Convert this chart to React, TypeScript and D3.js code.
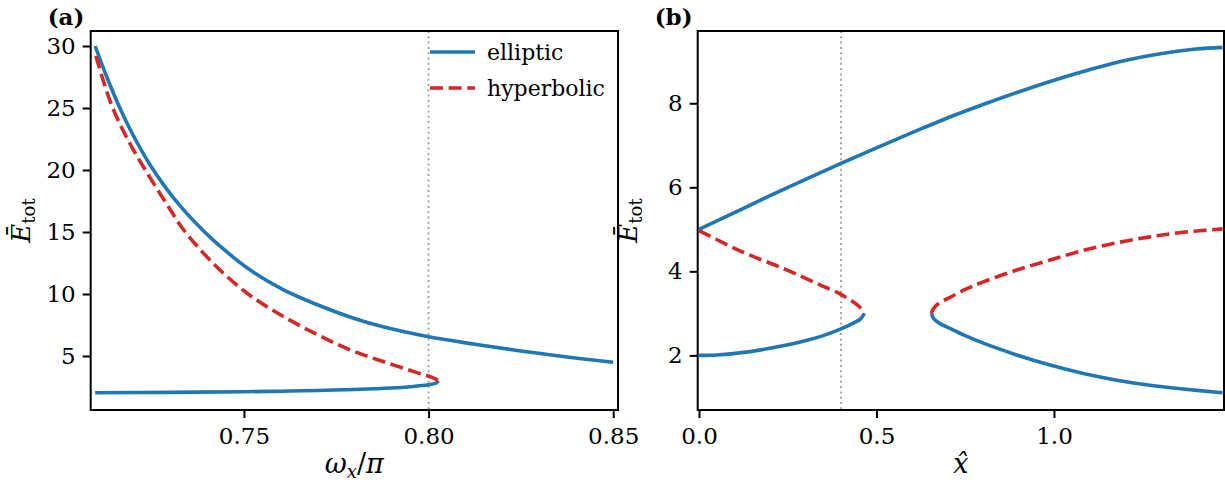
import React, { useEffect, useRef } from 'react';
import * as d3 from 'd3';

// panel (a): energy vs omega_x / pi
const aUpperX = [0.7097, 0.713, 0.7164, 0.72, 0.7246, 0.729, 0.7336, 0.738, 0.7426, 0.7516, 0.7606, 0.7697, 0.7787, 0.7877, 0.8, 0.8125, 0.825, 0.8375, 0.85];
const aUpperY = [30.0, 27.4, 25.0, 22.8, 20.4, 18.5, 16.8, 15.4, 14.1, 11.95, 10.35, 9.15, 8.15, 7.35, 6.55, 5.95, 5.4, 4.92, 4.5];
const aHypX = [0.7099, 0.7142, 0.719, 0.7237, 0.729, 0.7336, 0.7426, 0.7516, 0.7606, 0.7697, 0.7787, 0.7877, 0.7967, 0.801, 0.8027];
const aHypY = [29.2, 25.2, 22.2, 19.8, 17.3, 15.2, 12.2, 9.9, 8.2, 6.75, 5.5, 4.55, 3.68, 3.27, 3.0];
const aLowerX = [0.7097, 0.73, 0.75, 0.76, 0.77, 0.78, 0.79, 0.795, 0.8, 0.802, 0.8027];
const aLowerY = [2.04, 2.07, 2.12, 2.16, 2.22, 2.3, 2.42, 2.52, 2.68, 2.82, 3.0];
const aTicksX = [0.75, 0.8, 0.85];
const aTicksY = [5, 10, 15, 20, 25, 30];

// panel (b): energy vs x-hat
const bUpperX = [0, 0.1, 0.2, 0.3, 0.4, 0.5, 0.6, 0.7, 0.8, 0.9, 1.0, 1.1, 1.2, 1.3, 1.4, 1.475];
const bUpperY = [5.0, 5.4, 5.8, 6.19, 6.57, 6.94, 7.3, 7.65, 7.97, 8.27, 8.55, 8.8, 9.02, 9.18, 9.29, 9.33];
const bHyp1X = [0, 0.12, 0.237, 0.332, 0.4, 0.44, 0.455, 0.466];
const bHyp1Y = [4.97, 4.47, 4.07, 3.71, 3.45, 3.24, 3.13, 3.0];
const bLower1X = [0, 0.05, 0.144, 0.2, 0.285, 0.35, 0.4, 0.44, 0.455, 0.466];
const bLower1Y = [2.0, 2.01, 2.09, 2.17, 2.32, 2.47, 2.63, 2.79, 2.87, 3.0];
const bHyp2X = [0.655, 0.658, 0.665, 0.68, 0.707, 0.75, 0.801, 0.895, 0.989, 1.083, 1.177, 1.27, 1.364, 1.475];
const bHyp2Y = [3.0, 3.08, 3.16, 3.26, 3.38, 3.57, 3.75, 4.03, 4.27, 4.5, 4.68, 4.82, 4.93, 5.01];
const bLower2X = [0.655, 0.658, 0.665, 0.68, 0.707, 0.75, 0.801, 0.895, 0.989, 1.083, 1.177, 1.27, 1.364, 1.475];
const bLower2Y = [3.0, 2.92, 2.84, 2.75, 2.64, 2.47, 2.29, 2.01, 1.77, 1.57, 1.41, 1.29, 1.2, 1.11];
const bTicksX = [0, 0.5, 1.0];
const bTicksY = [2, 4, 6, 8];

const legendLabels = ['elliptic', 'hyperbolic'];

const BLUE = '#1f77b4';
const RED = '#d62728';
const FONT = "'DejaVu Serif', 'Liberation Serif', serif";

const zip = (xs: number[], ys: number[]) => xs.map((x, i) => [x, ys[i]] as [number, number]);

const App = () => {
  const svgRef = useRef<SVGSVGElement>(null);

  useEffect(() => {
    const svg = d3.select(svgRef.current);
    svg.selectAll('*').remove();

    const top = 31, bottom = 410;

    const panel = (opts: any) => {
      const { left, right, xDomain, yDomain, xTicks, yTicks, xFmt, yFmt, label, vline, series, xLabel } = opts;
      const x = d3.scaleLinear().domain(xDomain).range([left, right]);
      const y = d3.scaleLinear().domain(yDomain).range([bottom, top]);
      const g = svg.append('g');

      const clipId = 'clip' + label;
      g.append('clipPath').attr('id', clipId)
        .append('rect').attr('x', left).attr('y', top).attr('width', right - left).attr('height', bottom - top);

      // dotted reference line
      g.append('line')
        .attr('x1', x(vline)).attr('x2', x(vline))
        .attr('y1', top).attr('y2', bottom)
        .attr('stroke', '#a6a6a6').attr('stroke-width', 2)
        .attr('stroke-dasharray', '2,3.3');

      const line = d3.line<[number, number]>()
        .x(d => x(d[0])).y(d => y(d[1]))
        .curve(d3.curveCatmullRom.alpha(0.5));

      series.forEach((s: any) => {
        g.append('path')
          .datum(zip(s.xs, s.ys))
          .attr('clip-path', `url(#${clipId})`)
          .attr('fill', 'none')
          .attr('stroke', s.color)
          .attr('stroke-width', 3.6)
          .attr('stroke-dasharray', s.dashed ? '13,5.6' : null)
          .attr('d', line);
      });

      // axes
      const xAxis = g.append('g')
        .attr('transform', `translate(0,${bottom})`)
        .call(d3.axisBottom(x).tickValues(xTicks).tickFormat(xFmt).tickSizeOuter(0).tickSize(8).tickPadding(10));
      const yAxis = g.append('g')
        .attr('transform', `translate(${left},0)`)
        .call(d3.axisLeft(y).tickValues(yTicks).tickFormat(yFmt).tickSizeOuter(0).tickSize(8).tickPadding(7));
      [xAxis, yAxis].forEach(ax => {
        ax.attr('font-family', null).attr('font-size', null);
        ax.select('.domain').remove();
        ax.selectAll('line').attr('stroke', '#000').attr('stroke-width', 2);
        ax.selectAll('text').attr('fill', '#000').style('font-family', FONT).style('font-size', '23px');
      });

      g.append('rect')
        .attr('x', left).attr('y', top)
        .attr('width', right - left).attr('height', bottom - top)
        .attr('fill', 'none').attr('stroke', '#000').attr('stroke-width', 2);

      // panel label
      g.append('text')
        .attr('x', left - 43).attr('y', 25)
        .style('font-family', FONT).style('font-size', '23px').style('font-weight', 'bold')
        .text(`(${label})`);

      // y label
      const yl = g.append('text')
        .attr('transform', `translate(${left - 61},${(top + bottom) / 2}) rotate(-90)`)
        .attr('text-anchor', 'middle')
        .style('font-family', FONT).style('font-size', '26px');
      yl.append('tspan').style('font-style', 'italic').text('\u0112');
      yl.append('tspan').attr('dy', 5).style('font-size', '18px').text('tot');

      // x label
      const xl = g.append('text')
        .attr('x', (left + right) / 2).attr('y', 473)
        .attr('text-anchor', 'middle')
        .style('font-family', FONT).style('font-size', '27px');
      xLabel(xl);

      return { x, y, g };
    };

    const a = panel({
      left: 90.7, right: 618,
      xDomain: [0.7085, 0.8513], yDomain: [0.645, 31.21],
      xTicks: aTicksX, yTicks: aTicksY,
      xFmt: d3.format('.2f'), yFmt: d3.format('d'),
      label: 'a', vline: 0.8,
      series: [
        { xs: aUpperX, ys: aUpperY, color: BLUE },
        { xs: aLowerX, ys: aLowerY, color: BLUE },
        { xs: aHypX, ys: aHypY, color: RED, dashed: true },
      ],
      xLabel: (t: any) => {
        t.append('tspan').style('font-style', 'italic').text('\u03c9');
        t.append('tspan').attr('dy', 5).style('font-size', '18px').style('font-style', 'italic').text('x');
        t.append('tspan').attr('dy', -5).text('/');
        t.append('tspan').style('font-style', 'italic').text('\u03c0');
      },
    });

    panel({
      left: 697.7, right: 1224,
      xDomain: [-0.0037, 1.479], yDomain: [0.7, 9.72],
      xTicks: bTicksX, yTicks: bTicksY,
      xFmt: d3.format('.1f'), yFmt: d3.format('d'),
      label: 'b', vline: 0.4,
      series: [
        { xs: bUpperX, ys: bUpperY, color: BLUE },
        { xs: bLower1X, ys: bLower1Y, color: BLUE },
        { xs: bLower2X, ys: bLower2Y, color: BLUE },
        { xs: bHyp1X, ys: bHyp1Y, color: RED, dashed: true },
        { xs: bHyp2X, ys: bHyp2Y, color: RED, dashed: true },
      ],
      xLabel: (t: any) => {
        t.append('tspan').style('font-style', 'italic').text('x\u0302');
      },
    });

    // legend in panel (a)
    const legend = a.g.append('g').attr('transform', 'translate(430,52)');
    legendLabels.forEach((name, i) => {
      const row = legend.append('g').attr('transform', `translate(0,${i * 36})`);
      row.append('line')
        .attr('x1', 0).attr('x2', 45).attr('y1', 0).attr('y2', 0)
        .attr('stroke', i === 0 ? BLUE : RED).attr('stroke-width', 3.6)
        .attr('stroke-dasharray', i === 0 ? null : '13,5.6');
      row.append('text')
        .attr('x', 57).attr('y', 8)
        .style('font-family', FONT).style('font-size', '22px')
        .text(name);
    });
  }, []);

  return (
    <svg
      ref={svgRef}
      width={1225}
      height={485}
      style={{ position: 'absolute', left: 0, top: 0, background: '#fff' }}
    />
  );
};

export default App;
